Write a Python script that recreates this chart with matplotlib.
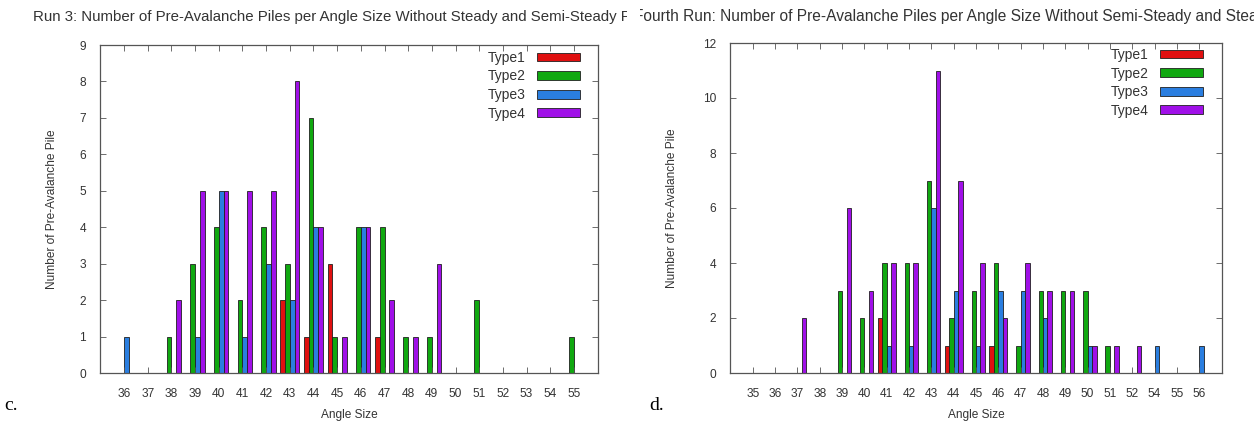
import numpy as np
import matplotlib
matplotlib.use('Agg')
import matplotlib.pyplot as plt
from matplotlib.transforms import Bbox

# Run 3 (chart c.)
anglesC = ['36', '37', '38', '39', '40', '41', '42', '43', '44', '45',
           '46', '47', '48', '49', '50', '51', '52', '53', '54', '55']
type1C = [0, 0, 0, 0, 0, 0, 0, 2, 1, 3, 0, 1, 0, 0, 0, 0, 0, 0, 0, 0]
type2C = [0, 0, 1, 3, 4, 2, 4, 3, 7, 1, 4, 4, 1, 1, 0, 2, 0, 0, 0, 1]
type3C = [1, 0, 0, 1, 5, 1, 3, 2, 4, 0, 4, 0, 0, 0, 0, 0, 0, 0, 0, 0]
type4C = [0, 0, 2, 5, 5, 5, 5, 8, 4, 1, 4, 2, 1, 3, 0, 0, 0, 0, 0, 0]

# Fourth run (chart d.)
anglesD = ['35', '36', '37', '38', '39', '40', '41', '42', '43', '44', '45',
           '46', '47', '48', '49', '50', '51', '52', '54', '55', '56']
type1D = [0, 0, 0, 0, 0, 0, 2, 0, 0, 1, 0, 1, 0, 0, 0, 0, 0, 0, 0, 0, 0]
type2D = [0, 0, 0, 0, 3, 2, 4, 4, 7, 2, 3, 4, 1, 3, 3, 3, 1, 0, 0, 0, 0]
type3D = [0, 0, 0, 0, 0, 0, 1, 1, 6, 3, 1, 3, 3, 2, 0, 1, 0, 0, 1, 0, 1]
type4D = [0, 0, 2, 0, 6, 3, 4, 4, 11, 7, 4, 2, 4, 3, 3, 1, 1, 1, 0, 0, 0]

typeNames = ['Type1', 'Type2', 'Type3', 'Type4']
colors = ['#e01010', '#10a810', '#2a7ee0', '#a010e8']

TXT = '#333333'
W, H = 1254, 434


# draw one clustered histogram like gnuplot does it
def drawChart(ax, angles, series, ymax, ystep, legAnchor, ylabelX):
    n = len(angles)
    x = np.arange(n)
    width = 0.2
    for k in range(4):
        ax.bar(x + (k - 1.5) * width, series[k], width, color=colors[k],
               edgecolor='#202020', linewidth=0.6, label=typeNames[k])
    ax.set_xlim(-1.02, n + 0.02)
    ax.set_ylim(0, ymax)
    ax.set_xticks(x)
    ax.set_xticklabels(angles)
    ax.set_yticks(np.arange(0, ymax + 1, ystep))
    ax.tick_params(direction='in', top=True, right=True, length=4,
                   width=0.6, color='#555555', labelsize=8.6, labelcolor=TXT)
    ax.tick_params(axis='x', pad=11)
    ax.tick_params(axis='y', pad=10)
    for s in ax.spines.values():
        s.set_color('#555555')
        s.set_linewidth(0.9)
    ax.set_xlabel('Angle Size', fontsize=8.6, color=TXT, labelpad=6)
    ax.set_ylabel('Number of Pre-Avalanche Pile', fontsize=8.6, color=TXT,
                  va='center')
    ax.yaxis.set_label_coords(ylabelX, 0.5)
    leg = ax.legend(loc='upper right', bbox_to_anchor=legAnchor,
                    frameon=False, markerfirst=False, fontsize=10,
                    handlelength=3.1, handleheight=0.6, labelspacing=0.33,
                    borderpad=0, borderaxespad=0, handletextpad=0.8)
    for t in leg.get_texts():
        t.set_color(TXT)


# title text clipped to its own panel
def clippedTitle(fig, text, x0, y0, clipLeft, clipRight, size):
    t = fig.text(x0 / W, 1 - y0 / H, text, ha='left', va='center',
                 fontsize=size, color=TXT)
    t.set_clip_box(Bbox([[clipLeft, 0], [clipRight, H]]))
    t.set_clip_on(True)


def main():
    plt.rcParams['font.family'] = ['Liberation Sans', 'DejaVu Sans']
    fig = plt.figure(figsize=(W / 100, H / 100), dpi=100)

    axC = fig.add_axes([100 / W, 61 / H, 498 / W, 328 / H])
    drawChart(axC, anglesC, [type1C, type2C, type3C, type4C], 9, 1,
              (0.964, 0.982), -(100 - 52) / 498)

    axD = fig.add_axes([730 / W, 61 / H, 492 / W, 330 / H])
    drawChart(axD, anglesD, [type1D, type2D, type3D, type4D], 12, 2,
              (0.961, 0.985), -(730 - 672) / 492)

    clippedTitle(fig, 'Run 3: Number of Pre-Avalanche Piles per Angle Size '
                 'Without Steady and Semi-Steady Piles', 33, 17, 0, 627, 10.8)
    clippedTitle(fig, 'Fourth Run: Number of Pre-Avalanche Piles per Angle '
                 'Size Without Semi-Steady and Steady Piles', 634, 17, 640, W,
                 11.2)

    fig.text(4 / W, 1 - 405 / H, 'c.', fontsize=14,
             family=['Liberation Serif', 'DejaVu Serif'], va='center')
    fig.text(649 / W, 1 - 405 / H, 'd.', fontsize=14,
             family=['Liberation Serif', 'DejaVu Serif'], va='center')

    fig.savefig('out.png', dpi=100)


if __name__ == '__main__':
    main()
